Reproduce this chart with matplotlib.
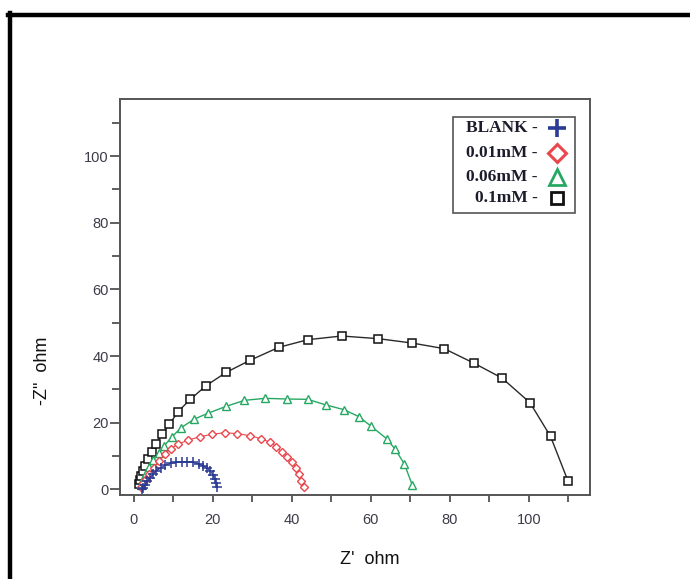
import matplotlib
matplotlib.use("Agg")
import matplotlib.pyplot as plt
from matplotlib.lines import Line2D
from matplotlib.patches import Rectangle
from matplotlib.ticker import MultipleLocator

# ---- data ----
series_names = ["BLANK -", "0.01mM -", "0.06mM -", "0.1mM -"]

blank_x = [2.0, 2.4, 2.8, 3.4, 4.1, 4.9, 5.7, 6.8, 7.9, 9.3, 10.8, 12.2, 13.5, 15.0, 16.4, 17.5, 18.6, 19.4, 20.1, 20.5, 20.9, 21.1]
blank_y = [0.2, 0.5, 1.3, 2.4, 3.5, 4.6, 5.5, 6.4, 7.2, 7.8, 8.1, 8.3, 8.2, 8.1, 7.6, 7.1, 6.4, 5.4, 4.3, 3.1, 2.0, 0.8]

c001_x = [1.9, 2.2, 3.0, 3.9, 5.1, 6.4, 7.8, 9.4, 11.3, 13.8, 16.8, 19.7, 23.0, 26.2, 29.4, 32.2, 34.5, 36.1, 37.5, 38.8, 40.0, 41.0, 41.7, 42.4, 43.0]
c001_y = [0.8, 1.8, 3.2, 4.6, 6.5, 8.4, 10.5, 12.2, 13.6, 14.8, 15.8, 16.5, 17.0, 16.7, 16.1, 15.2, 14.1, 12.8, 11.1, 9.8, 8.2, 6.3, 4.5, 2.6, 0.8]

c006_x = [1.9, 2.4, 3.0, 3.9, 4.9, 6.4, 7.7, 9.7, 12.0, 15.2, 18.7, 23.4, 28.0, 33.3, 38.7, 44.0, 48.7, 53.2, 57.0, 60.0, 64.0, 66.2, 68.5, 70.5]
c006_y = [1.2, 3.0, 4.8, 6.8, 8.8, 10.8, 13.1, 15.8, 18.5, 21.0, 22.8, 24.9, 26.7, 27.3, 27.1, 27.0, 25.3, 23.9, 21.8, 19.0, 15.2, 12.0, 7.6, 1.3]

c01_x = [1.3, 1.6, 1.9, 2.3, 2.8, 3.5, 4.6, 5.6, 7.2, 9.0, 11.2, 14.3, 18.3, 23.4, 29.4, 36.7, 44.1, 52.6, 61.9, 70.4, 78.6, 86.2, 93.2, 100.3, 105.5, 109.9]
c01_y = [1.6, 2.8, 4.1, 5.6, 7.1, 9.0, 11.1, 13.5, 16.6, 19.5, 23.3, 27.0, 31.1, 35.1, 38.7, 42.6, 44.9, 46.0, 45.2, 43.9, 42.2, 37.8, 33.4, 26.0, 15.9, 2.6]

x_ticks = [0, 20, 40, 60, 80, 100]
y_ticks = [0, 20, 40, 60, 80, 100]

# ---- styling ----
BLUE = "#2b3a93"
RED = "#e8474d"
GREEN = "#27a862"
BLACK = "#111111"

fig = plt.figure(figsize=(6.9, 5.79), dpi=100)
ax = fig.add_axes([120/690, 1-495/579, 470/690, 396/579])

ax.plot(c01_x, c01_y, color="#2a2a2a", lw=1.0, marker="s", ms=6, mfc="white", mec=BLACK, mew=1.1, zorder=2)
ax.plot(c006_x, c006_y, color=GREEN, lw=1.0, marker="^", ms=6, mfc="white", mec=GREEN, mew=1.0, zorder=3)
ax.plot(c001_x, c001_y, color=RED, lw=0.8, marker="D", ms=4.5, mfc="white", mec=RED, mew=1.0, zorder=4)
ax.plot(blank_x, blank_y, color=BLUE, lw=0.8, marker="+", ms=7, mec=BLUE, mew=1.1, zorder=5)

ax.set_xlim(-3.5, 115.5)
ax.set_ylim(-1.7, 117.1)
ax.set_xticks(x_ticks)
ax.set_yticks(y_ticks)
ax.xaxis.set_minor_locator(MultipleLocator(10))
ax.yaxis.set_minor_locator(MultipleLocator(10))

tick_color = "#3c3c4a"
ax.tick_params(axis="x", which="major", direction="out", length=5, width=1.2, color="#444444",
               labelsize=10.5, labelcolor=tick_color, pad=8)
ax.tick_params(axis="x", which="minor", direction="out", length=5, width=1.2, color="#444444")
ax.tick_params(axis="y", which="major", direction="out", length=7, width=1.2, color="#444444",
               labelsize=10.5, labelcolor=tick_color, pad=1)
ax.tick_params(axis="y", which="minor", direction="out", length=6, width=1.2, color="#444444")
for lab in ax.get_xticklabels() + ax.get_yticklabels():
    lab.set_family("Liberation Sans")

for s in ax.spines.values():
    s.set_color("#555555")
    s.set_linewidth(1.4)

ax.set_xlabel("Z'  ohm", fontsize=13, family="Liberation Sans", color="#111111", va="center")
ax.xaxis.set_label_coords(0.532, -0.164)
ax.set_ylabel('-Z"  ohm', fontsize=13, family="Liberation Sans", color="#111111", va="center")
ax.yaxis.set_label_coords(-0.165, 0.313)

# ---- legend (manual, right-aligned labels with markers on the right) ----
def ax_xy(px, py):
    return ((px - 120) / 470, (495 - py) / 396)

x0, y0 = ax_xy(453, 213)
x1, y1 = ax_xy(575, 117)
ax.add_patch(Rectangle((x0, y0), x1 - x0, y1 - y0, transform=ax.transAxes,
                       fill=True, facecolor="white", edgecolor="#555555", lw=1.2, zorder=10))
leg_rows = [128, 153, 177, 198]
leg_styles = [
    dict(marker="+", ms=13, mew=2.6, mec=BLUE, mfc="none"),
    dict(marker="D", ms=9, mew=2.2, mec=RED, mfc="white"),
    dict(marker="^", ms=11, mew=2.0, mec=GREEN, mfc="white"),
    dict(marker="s", ms=8.5, mew=2.0, mec=BLACK, mfc="white"),
]
for name, py, st in zip(series_names, leg_rows, leg_styles):
    tx, ty = ax_xy(538, py)
    ax.text(tx, ty, name, transform=ax.transAxes, ha="right", va="center",
            fontsize=12.5, fontweight="bold", family="Liberation Serif", color="#1c1c2c", zorder=11)
    mx, my = ax_xy(557, py)
    ax.plot([mx], [my], transform=ax.transAxes, linestyle="none", zorder=11, clip_on=False, **st)

# ---- outer frame ----
fig.add_artist(Line2D([8/690, 1.0], [1-14.5/579, 1-14.5/579], transform=fig.transFigure, color="black", lw=3.2))
fig.add_artist(Line2D([9.5/690, 9.5/690], [0.0, 1-12.5/579], transform=fig.transFigure, color="black", lw=3.2))

fig.savefig("out.png", dpi=100)
